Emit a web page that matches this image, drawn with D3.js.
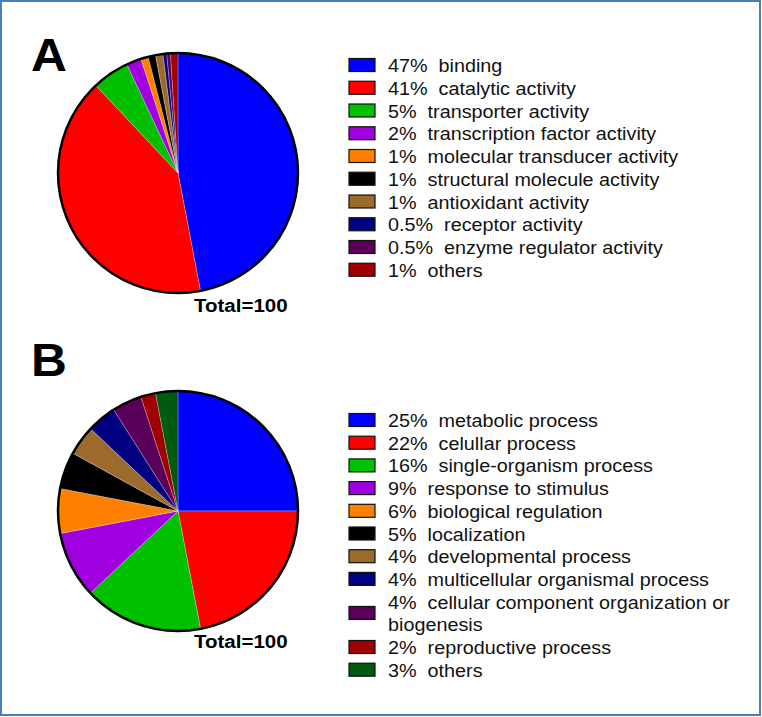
<!DOCTYPE html>
<html>
<head>
<meta charset="utf-8">
<script src="https://cdn.jsdelivr.net/npm/d3@7"></script>
<style>
  body { margin: 0; background: #fff; }
  text { font-family: "Liberation Sans", Arial, sans-serif; white-space: pre; }
</style>
</head>
<body>
<svg id="chart" width="762" height="717"></svg>
<script>
'use strict';

// panel A: molecular function
var molLabels = ['binding', 'catalytic activity', 'transporter activity',
  'transcription factor activity', 'molecular transducer activity',
  'structural molecule activity', 'antioxidant activity',
  'receptor activity', 'enzyme regulator activity', 'others'];
var molValues = [47, 41, 5, 2, 1, 1, 1, 0.5, 0.5, 1];
var molColors = ['#0000ff', '#ff0000', '#00c000', '#a000e0', '#ff8000',
  '#000000', '#9c6a2a', '#000080', '#5a005a', '#a00000'];

// panel B: biological process
var bioLabels = ['metabolic process', 'celullar process', 'single-organism process',
  'response to stimulus', 'biological regulation', 'localization',
  'developmental process', 'multicellular organismal process',
  ['cellular component organization or', 'biogenesis'],
  'reproductive process', 'others'];
var bioValues = [25, 22, 16, 9, 6, 5, 4, 4, 4, 2, 3];
var bioColors = ['#0000ff', '#ff0000', '#00c000', '#a000e0', '#ff8000',
  '#000000', '#9c6a2a', '#000080', '#5a005a', '#a00000', '#005a10'];

var svg = d3.select('#chart');
var radius = 120;

// outer frame
svg.append('rect')
    .attr('x', 1).attr('y', 1)
    .attr('width', 759).attr('height', 714)
    .attr('fill', 'none')
    .attr('stroke', '#4a7ebb')
    .attr('stroke-width', 2);

function drawPanel(opts) {
  var g = svg.append('g');

  // the source figure is a bit wider than tall, so stretch text slightly
  g.append('text')
      .attr('transform', 'translate(31,' + opts.letterY + ') scale(1.08,1)')
      .attr('font-size', 46).attr('font-weight', 'bold')
      .text(opts.letter);

  var pie = d3.pie().sort(null).value(function(d) { return d; });
  var arc = d3.arc().innerRadius(0).outerRadius(radius);
  var color = d3.scaleOrdinal().domain(d3.range(opts.values.length)).range(opts.colors);

  var pg = g.append('g')
      .attr('transform', 'translate(' + opts.cx + ',' + opts.cy + ')');
  pg.selectAll('path.slice')
      .data(pie(opts.values))
    .enter().append('path')
      .attr('class', 'slice')
      .attr('d', arc)
      .attr('fill', function(d, i) { return color(i); })
      .attr('stroke', '#fff')
      .attr('stroke-opacity', 0.5)
      .attr('stroke-width', 0.5);
  pg.append('circle')
      .attr('r', radius)
      .attr('fill', 'none')
      .attr('stroke', '#000')
      .attr('stroke-width', 2.5);

  g.append('text')
      .attr('transform', 'translate(194,' + opts.totalY + ') scale(1.08,1)')
      .attr('font-size', 19).attr('font-weight', 'bold')
      .text('Total=' + d3.sum(opts.values));

  // legend rows; a two-line label takes an extra row
  var y = opts.legendY;
  opts.labels.forEach(function(lab, i) {
    var lines = Array.isArray(lab) ? lab : [lab];
    var pct = opts.values[i] + '%  ';
    var mid = y + (lines.length - 1) * opts.rowH / 2;
    g.append('rect')
        .attr('x', 349).attr('y', mid - 6.5)
        .attr('width', 26).attr('height', 13)
        .attr('fill', color(i))
        .attr('stroke', '#111')
        .attr('stroke-width', 1.2);
    lines.forEach(function(line, j) {
      g.append('text')
          .attr('transform', 'translate(388,' + (y + j * opts.rowH + 7) + ') scale(1.07,1)')
          .attr('font-size', 18.5)
          .attr('fill', '#111')
          .text((j === 0 ? pct : '') + line);
    });
    y += lines.length * opts.rowH;
  });
}

drawPanel({letter: 'A', letterY: 71, cx: 178, cy: 173, totalY: 312,
  legendY: 65, rowH: 22.75, labels: molLabels, values: molValues, colors: molColors});
drawPanel({letter: 'B', letterY: 376, cx: 178, cy: 511, totalY: 648,
  legendY: 420, rowH: 22.7, labels: bioLabels, values: bioValues, colors: bioColors});
</script>
</body>
</html>
